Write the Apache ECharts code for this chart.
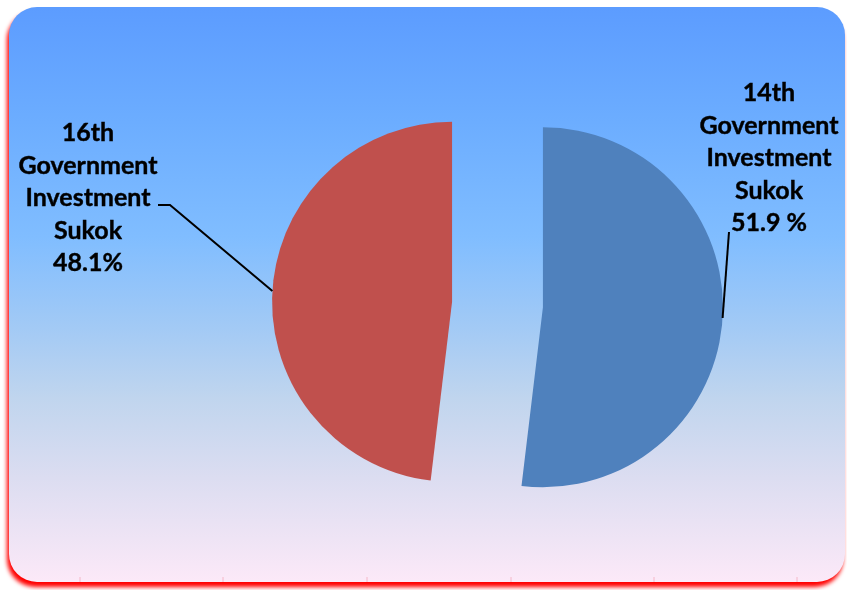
<!DOCTYPE html>
<html>
<head>
<meta charset="utf-8">
<script src="https://cdn.jsdelivr.net/npm/echarts@6/dist/echarts.min.js"></script>
<style>
html,body{margin:0;padding:0;background:#fff;}
#chart{width:847px;height:590px;}
</style>
</head>
<body>
<div id="chart"></div>
<script>
// ---- data ----
var categories = ['14th\nGovernment\nInvestment\nSukok', '16th\nGovernment\nInvestment\nSukok'];
var shares = [51.9, 48.1];
var shareLabels = ['51.9 %', '48.1%'];
var sliceColors = ['#4F81BD', '#C0504D'];

// ---- layout ----
var CX = 497.5, CY = 304.5, R = 180, OFFSET = 45.5;
var labelPos = [[769, 158], [88, 198]];   // label block centres
var elbowPos = [null, [170, 205]];         // optional bend of leader line
var lineEndPos = [[729, 232], [158, 205]];

var total = shares.reduce(function (a, b) { return a + b; }, 0);
function edgePoint(i) {
  var before = 0;
  for (var k = 0; k < i; k++) before += shares[k];
  var midDeg = 90 - (before + shares[i] / 2) / total * 360;
  var a = midDeg * Math.PI / 180;
  var d = R + OFFSET;
  return [CX + Math.cos(a) * d, CY - Math.sin(a) * d];
}

var chart = echarts.init(document.getElementById('chart'), null, {renderer: 'canvas'});

var deco = [];
[80, 223, 367, 511, 654, 797].forEach(function (x) {
  deco.push({type: 'line', z: -5, silent: true,
    shape: {x1: x, y1: 577, x2: x, y2: 582},
    style: {stroke: '#F4B8C8', lineWidth: 1}});
});

var labelEls = [];
shares.forEach(function (v, i) {
  var pts = [edgePoint(i)];
  if (elbowPos[i]) pts.push(elbowPos[i]);
  pts.push(lineEndPos[i]);
  labelEls.push({
    type: 'polyline', z: 100, silent: true,
    shape: {points: pts},
    style: {stroke: '#000', lineWidth: 2, fill: null}
  });
  labelEls.push({
    type: 'text', z: 100, silent: true,
    x: labelPos[i][0], y: labelPos[i][1],
    style: {
      text: categories[i] + '\n' + shareLabels[i],
      fontFamily: 'Lato',
      fontWeight: 'bold',
      fontSize: 25,
      lineHeight: 32.5,
      fill: '#000',
      stroke: '#000',
      lineWidth: 0.4,
      align: 'center',
      verticalAlign: 'middle'
    }
  });
});

var option = {
  animation: false,
  backgroundColor: '#ffffff',
  graphic: [
    {
      type: 'rect', z: -10, silent: true,
      shape: {x: 9, y: 7, width: 836, height: 575, r: 28},
      style: {
        fill: new echarts.graphic.LinearGradient(0, 0, 0, 1, [
          {offset: 0, color: '#5C9CFF'},
          {offset: 0.2, color: '#6CADFF'},
          {offset: 0.4, color: '#80BDFF'},
          {offset: 0.56, color: '#A3CAF5'},
          {offset: 0.68, color: '#C0D5EE'},
          {offset: 0.82, color: '#DCDDF1'},
          {offset: 1, color: '#FCE9F8'}
        ]),
        shadowColor: 'rgba(255,0,0,1)',
        shadowBlur: 4,
        shadowOffsetX: -2,
        shadowOffsetY: 5
      }
    }
  ].concat(deco).concat(labelEls),
  series: [{
    type: 'pie',
    center: [CX, CY],
    radius: R,
    startAngle: 90,
    clockwise: true,
    selectedMode: 'multiple',
    selectedOffset: OFFSET,
    avoidLabelOverlap: false,
    emphasis: {disabled: true},
    label: {show: false},
    labelLine: {show: false},
    data: shares.map(function (v, i) {
      return {
        name: categories[i],
        value: v,
        selected: true,
        itemStyle: {color: sliceColors[i]}
      };
    })
  }]
};
chart.setOption(option);
</script>
</body>
</html>
